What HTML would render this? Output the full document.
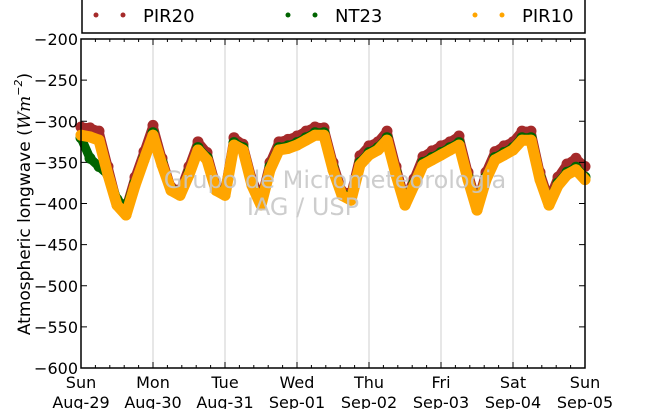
<!DOCTYPE html>
<html><head><meta charset="utf-8"><style>
body{margin:0;background:#fff;}
svg text{font-family:"DejaVu Sans","Liberation Sans",sans-serif;}
</style></head><body>
<svg id="chart" width="650" height="409" viewBox="0 0 650 409" xmlns="http://www.w3.org/2000/svg">
<rect width="650" height="409" fill="#fff"/>
<g id="legend">
<rect x="82" y="-5" width="503" height="38" fill="#fff" stroke="#000" stroke-width="1.5"/>
<g><circle cx="96" cy="15" r="2.5" fill="#a52a2a"/><circle cx="123" cy="15" r="2.5" fill="#a52a2a"/><text x="143" y="22" font-size="18">PIR20</text></g>
<g><circle cx="288" cy="15" r="2.5" fill="#006400"/><circle cx="315" cy="15" r="2.5" fill="#006400"/><text x="335" y="22" font-size="18">NT23</text></g>
<g><circle cx="475" cy="15" r="2.5" fill="#ffa500"/><circle cx="502" cy="15" r="2.5" fill="#ffa500"/><text x="522" y="22" font-size="18">PIR10</text></g>
</g>
<g id="grid"></g>
<g id="series"></g>
<text x="335" y="188" font-size="24" fill="#c8c8c8" fill-opacity="0.9" text-anchor="middle">Grupo de Micrometeorologia</text>
<text x="303" y="215" font-size="24" fill="#c8c8c8" fill-opacity="0.9" text-anchor="middle">IAG / USP</text>
<g id="axes"></g>
<text transform="translate(30,204) rotate(-90)" font-size="17" text-anchor="middle">Atmospheric longwave (<tspan font-style="italic" font-family="DejaVu Serif">Wm</tspan><tspan font-size="11" dy="-8" font-style="italic">−2</tspan><tspan dy="8">)</tspan></text>
</svg>
<script>
const dayLabels=["Sun","Mon","Tue","Wed","Thu","Fri","Sat","Sun"];
const dateLabels=["Aug-29","Aug-30","Aug-31","Sep-01","Sep-02","Sep-03","Sep-04","Sep-05"];
const yTicks=[-200,-250,-300,-350,-400,-450,-500,-550,-600];
const seriesNames=["PIR20","NT23","PIR10"];
const pir20=[-307,-308,-312,-355,-398,-405,-368,-337,
-305,-345,-380,-385,-355,-325,-338,-378,
-383,-320,-328,-370,-395,-350,-325,-322,
-318,-312,-307,-308,-350,-385,-388,-342,
-330,-325,-312,-355,-395,-370,-343,-336,
-330,-325,-318,-362,-400,-362,-337,-330,
-325,-312,-312,-362,-395,-368,-352,-345,-355];
const nt23=[-320,-345,-355,-365,-395,-405,-375,-345,
-314,-350,-382,-388,-362,-332,-344,-382,
-388,-326,-332,-375,-398,-355,-332,-330,
-326,-320,-314,-314,-356,-388,-392,-350,
-338,-332,-320,-362,-398,-375,-350,-344,
-338,-332,-326,-368,-402,-368,-344,-338,
-332,-320,-320,-368,-398,-375,-362,-356,-368];
const pir10=[-317,-319,-323,-365,-402,-414,-378,-347,
-317,-353,-384,-390,-365,-335,-347,-384,
-390,-329,-335,-378,-402,-359,-335,-333,
-329,-323,-317,-317,-359,-390,-396,-353,
-341,-335,-323,-365,-402,-378,-353,-347,
-341,-335,-329,-371,-408,-371,-347,-341,
-335,-323,-323,-371,-402,-378,-365,-359,-371];
const colors=["#a52a2a","#006400","#ffa500"];
const X0=81,X1=585,Y0=39,Y1=368;
const xScale=d=>X0+(X1-X0)*d/7;
const yScale=v=>Y0+(Y1-Y0)*(-200-v)/400;
const NS="http://www.w3.org/2000/svg";
function mk(tag,attrs,parent){const e=document.createElementNS(NS,tag);for(const k in attrs)e.setAttribute(k,attrs[k]);parent.appendChild(e);return e;}
const grid=document.getElementById('grid'),axes=document.getElementById('axes'),ser=document.getElementById('series');
for(let i=1;i<7;i++){const l=mk('line',{x1:xScale(i),x2:xScale(i),y1:Y0,y2:Y1,stroke:'#cfcfcf','stroke-width':1},grid);

}
[pir20,nt23,pir10].forEach((arr,si)=>{
const g=mk('g',{},ser);


const pts=arr.map((v,i)=>xScale(i*3/24).toFixed(1)+','+yScale(v).toFixed(1)).join(' ');
const p=mk('polyline',{points:pts,fill:'none',stroke:colors[si],'stroke-width':si===2?11:9,'stroke-linejoin':'round','stroke-linecap':'round'},g);


arr.forEach((v,i)=>{const c=mk('circle',{cx:xScale(i*3/24),cy:yScale(v),r:5.5,fill:colors[si]},g);

});
});
const fr=mk('rect',{x:X0,y:Y0,width:X1-X0,height:Y1-Y0,fill:'none',stroke:'#000','stroke-width':1.5},axes);


yTicks.forEach(v=>{const y=yScale(v);
mk('line',{x1:X0,x2:X0+6,y1:y,y2:y,stroke:'#000'},axes);
mk('line',{x1:X1-6,x2:X1,y1:y,y2:y,stroke:'#000'},axes);
const t=mk('text',{x:X0-3,y:y+6,'font-size':16,'text-anchor':'end'},axes);


t.textContent=String(v).replace('-','−');});
for(let i=0;i<=35;i++){const x=X0+(X1-X0)*i/35;const len=i%5===0?6:3;
mk('line',{x1:x,x2:x,y1:Y0,y2:Y0+len,stroke:'#000'},axes);
mk('line',{x1:x,x2:x,y1:Y1-len,y2:Y1,stroke:'#000'},axes);}
dayLabels.forEach((d,i)=>{const x=xScale(i);
const t=mk('text',{x:x,y:388,'font-size':16,'text-anchor':'middle'},axes);


t.textContent=d;
const t2=mk('text',{x:x,y:408,'font-size':16,'text-anchor':'middle'},axes);


t2.textContent=dateLabels[i];});
</script>
</body></html>
